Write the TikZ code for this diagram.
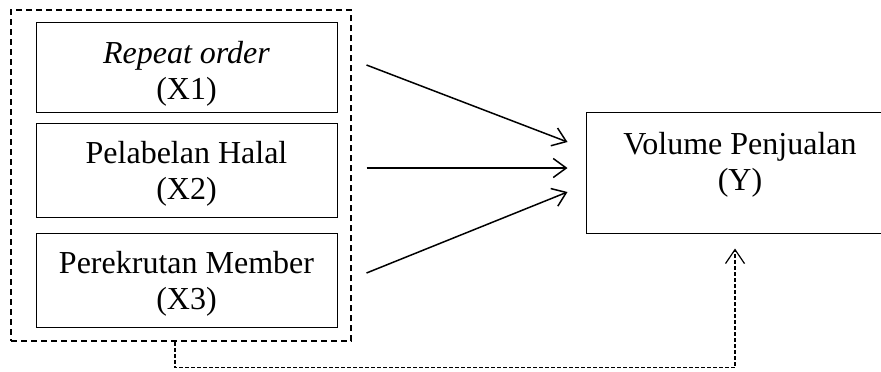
\documentclass[tikz,border=0pt]{standalone}
\usepackage{fontspec}
\setmainfont{Liberation Serif}
\usetikzlibrary{positioning, arrows.meta}

\begin{document}
\begin{tikzpicture}[x=0.5pt, y=-0.5pt,
    box/.style = {rectangle, draw, line width=0.5pt, align=center, inner sep=0pt,
        font=\fontsize{16}{18}\selectfont, minimum width=150.5pt},
    arr/.style = {-{Straight Barb[length=6.5pt, width=9.5pt]}, line width=0.75pt},
    dasharr/.style = {-{Straight Barb[length=7pt, width=9.5pt]}, line width=0.6pt, dash pattern=on 2pt off 1pt}]
    \useasboundingbox (0,0) rectangle (881,371);
    \node[rectangle, draw, line width=0.8pt, dash pattern=on 3pt off 2pt,
        minimum width=170pt, minimum height=165.5pt] (frame) at (181,175.5) {};
    \node[box, minimum height=45pt] (x1) at (186.5,67) {\rule{0pt}{18pt}\textit{Repeat order}\\(X1)};
    \node[box, minimum height=47pt] (x2) at (186.5,170) {\rule{0pt}{15pt}Pelabelan Halal\\(X2)};
    \node[box, minimum height=47pt] (x3) at (186.5,280) {\rule{0pt}{15pt}Perekrutan Member\\(X3)};
    \node[box, minimum width=154pt, minimum height=60.5pt] (y) at (740,172.5) {Volume Penjualan\\(Y)\rule[-11.5pt]{0pt}{0pt}};
    % partial effects
    \draw[arr] ([shift={(29,-2)}]x1.east) -- ([shift={(-18,-30.5)}]y.west);
    \draw[arr] ([shift={(29,-2)}]x2.east) -- ([shift={(-18,-4.5)}]y.west);
    \draw[arr] ([shift={(29,-7)}]x3.east) -- ([shift={(-18,19.5)}]y.west);
    % simultaneous effect
    \draw[dasharr] ([xshift=-3pt]frame.south) -- ++(0,26) -| ([shift={(-5,15)}]y.south);
\end{tikzpicture}
\end{document}
